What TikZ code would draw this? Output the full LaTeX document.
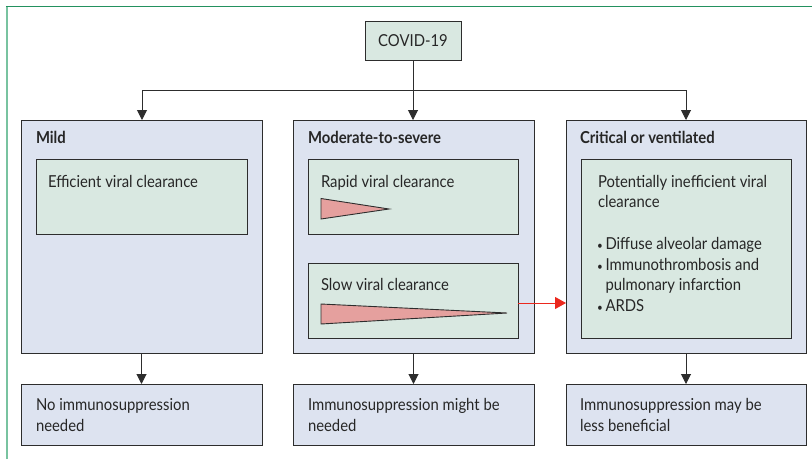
\documentclass[tikz,border=0pt]{standalone}
\usepackage{fontspec}
\setmainfont{Lato}[FakeStretch=0.9]
\usetikzlibrary{arrows.meta}
\definecolor{frameg}{RGB}{35,145,95}
\definecolor{framel}{RGB}{120,195,160}
\definecolor{colfill}{RGB}{221,227,240}
\definecolor{innfill}{RGB}{217,232,225}
\definecolor{pinkf}{RGB}{229,160,158}
\definecolor{redarr}{RGB}{235,40,30}
\definecolor{edge}{RGB}{45,45,45}
\newcommand{\mybul}{\makebox[8.5pt][l]{\fontsize{11}{11}\selectfont\textbullet}}
\tikzset{
  colbox/.style={draw=edge, line width=1pt, fill=colfill, anchor=north west, inner sep=0pt, outer sep=0pt},
  innbox/.style={draw=edge, line width=1pt, fill=innfill, anchor=north west, inner sep=0pt, outer sep=0pt},
  txt/.style={anchor=base west, inner sep=0pt, outer sep=0pt, align=left, font=\fontsize{16.5}{20.5}\selectfont, text=black!85},
  ttl/.style={txt, font=\fontsize{16.5}{20.5}\selectfont\bfseries},
  arr/.style={line width=1pt, draw=edge, -{Triangle[length=10pt,width=10pt]}},
  rarr/.style={line width=1pt, draw=redarr, -{Triangle[length=11pt,width=12pt]}},
  wedge/.style={draw=edge, line width=0.9pt, fill=pinkf}
}
\begin{document}
\begin{tikzpicture}[x=1pt,y=-1pt]
\useasboundingbox (0,0) rectangle (812,459);
% frame
\draw[framel, line width=1.6pt] (7,459) -- (7,6.5);
\draw[frameg, line width=1pt] (6.2,6) -- (812,6);
% top node
\node[innbox, minimum width=96pt, minimum height=39pt, font=\fontsize{16.5}{20.5}\selectfont, text=black!85] (covid) at (365,21) {COVID-19};
% column boxes
\node[colbox, minimum width=241pt, minimum height=233pt] (mild) at (21,120) {};
\node[colbox, minimum width=241pt, minimum height=233pt] (mod) at (293,120) {};
\node[colbox, minimum width=240pt, minimum height=233pt] (crit) at (566,120) {};
% inner boxes
\node[innbox, minimum width=211pt, minimum height=75pt] (eff) at (36,159) {};
\node[innbox, minimum width=210pt, minimum height=75pt] (rapid) at (308,159) {};
\node[innbox, minimum width=210pt, minimum height=75pt] (slow) at (308,263) {};
\node[innbox, minimum width=210pt, minimum height=179pt] (ineff) at (581,159) {};
% bottom boxes
\node[colbox, minimum width=241pt, minimum height=61pt] (nois) at (21,384) {};
\node[colbox, minimum width=241pt, minimum height=61pt] (might) at (293,384) {};
\node[colbox, minimum width=240pt, minimum height=61pt] (less) at (566,384) {};
% titles
\node[ttl] (tmild) at (36,143) {Mild};
\node[ttl] (tmod) at (308,143) {Moderate-to-severe};
\node[ttl] (tcrit) at (580,143) {Critical or ventilated};
% inner texts (base anchor = last line)
\node[txt] (teff) at (48,187) {Efficient viral clearance};
\node[txt] (trapid) at (321,187) {Rapid viral clearance};
\node[txt] (tslow) at (321,290) {Slow viral clearance};
\node[txt] (tineff) at (598,207.5) {Potentially inefficient viral\\clearance};
\node[txt] (tbul) at (597,311) {\mybul Diffuse alveolar damage\\\mybul Immunothrombosis and\\\hphantom{\mybul}pulmonary infarction\\\mybul ARDS};
% bottom texts
\node[txt] (tnois) at (36,431) {No immunosuppression\\needed};
\node[txt] (tmight) at (308,431) {Immunosuppression might be\\needed};
\node[txt] (tless) at (580,431) {Immunosuppression may be\\less beneficial};
% wedges
\coordinate (r1) at (321,198.5); \coordinate (r2) at (321,219); \coordinate (r3) at (389,209);
\draw[wedge] (r1) -- (r3) -- (r2) -- cycle;
\coordinate (s1) at (321,304); \coordinate (s2) at (321,324); \coordinate (s3) at (507,313);
\draw[wedge] (s1) -- (s3) -- (s2) -- cycle;
% connectors
\coordinate (split) at (covid.south |- 0,90);
\draw[line width=1pt, draw=edge] (covid.south) -- (split);
\draw[arr] (split) -- (mod.north -| covid.south);
\draw[arr] (142,90) -- (142,120);
\draw[line width=1pt, draw=edge] (142,90) -- (686,90);
\draw[arr] (686,90) -- (686,120);
\draw[arr] (mild.south) -- (nois.north);
\draw[arr] (mod.south) -- (might.north);
\draw[arr] (crit.south) -- (less.north);
\draw[rarr] (slow.east |- 0,303) -- (crit.west |- 0,303);
\end{tikzpicture}
\end{document}
